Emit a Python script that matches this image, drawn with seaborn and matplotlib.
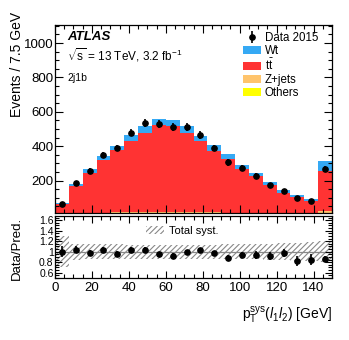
import numpy as np
import pandas as pd
import matplotlib
matplotlib.use("Agg")
import matplotlib.pyplot as plt
from matplotlib.patches import Patch
from matplotlib.ticker import MultipleLocator
import seaborn as sns

# ---- data ----
bin_edges = [0, 7.5, 15, 22.5, 30, 37.5, 45, 52.5, 60, 67.5, 75, 82.5, 90,
             97.5, 105, 112.5, 120, 127.5, 135, 142.5, 150]
others = [2, 3, 4, 4, 5, 5, 5, 5, 5, 5, 5, 4, 4, 4, 3, 3, 3, 2, 2, 7]
zjets = [2, 5, 8, 10, 11, 12, 12, 13, 13, 12, 12, 11, 10, 9, 8, 7, 6, 5, 4, 14]
ttbar = [58, 159, 233, 304, 360, 415, 463, 507, 497, 463, 411, 355, 312, 255, 214, 165, 120, 98, 76, 233]
wt = [8, 16, 23, 23, 27, 31, 35, 34, 35, 39, 33, 37, 29, 25, 20, 17, 15, 12, 12, 58]
data = [67, 184, 258, 349, 390, 480, 534, 527, 511, 511, 467, 390, 306, 272, 229, 173, 138, 100, 84, 268]
data_err = [8, 14, 16, 19, 20, 22, 23, 23, 23, 23, 22, 20, 18, 17, 15, 13, 12, 10, 9, 16]
ratio = [1.00, 1.04, 0.97, 1.03, 0.96, 1.04, 1.04, 0.95, 0.92, 0.99, 1.03, 0.97, 0.88, 0.94, 0.94, 0.92, 0.98, 0.82, 0.85, 0.86]
ratio_err = [0.10, 0.07, 0.06, 0.06, 0.05, 0.05, 0.05, 0.05, 0.05, 0.05, 0.05, 0.05, 0.06, 0.06, 0.07, 0.07, 0.08, 0.09, 0.10, 0.06]
syst = [0.30, 0.15, 0.14, 0.14, 0.14, 0.13, 0.13, 0.13, 0.13, 0.13, 0.13, 0.13, 0.14, 0.14, 0.14, 0.15, 0.16, 0.17, 0.18, 0.20]
processes = ["Wt", "tt", "Z+jets", "Others"]
labels = ["Wt", r"$\mathrm{t}\bar{\mathrm{t}}$", "Z+jets", "Others"]
colors = ["#35a9f4", "#ff3333", "#ffc46c", "#ffff00"]

sns.set_style("ticks")
plt.rcParams["font.family"] = ["Liberation Sans", "DejaVu Sans"]
plt.rcParams["mathtext.fontset"] = "custom"
plt.rcParams["mathtext.rm"] = "Liberation Sans"
plt.rcParams["mathtext.it"] = "Liberation Sans:italic"
plt.rcParams["mathtext.bf"] = "Liberation Sans:bold"
plt.rcParams["hatch.linewidth"] = 0.8
for k in ["text.color", "axes.labelcolor", "xtick.color", "ytick.color", "axes.edgecolor"]:
    plt.rcParams[k] = "black"

edges = np.array(bin_edges)
centers = 0.5 * (edges[:-1] + edges[1:])

rows = []
for name, vals in zip(processes, [wt, ttbar, zjets, others]):
    for c, v in zip(centers, vals):
        rows.append({"x": float(c), "w": float(v), "proc": name})
df = pd.DataFrame(rows)

W, H = 349, 340
fig = plt.figure(figsize=(W / 100, H / 100), dpi=100)
ax = fig.add_axes([55 / W, 1 - 213 / H, 277 / W, 188 / H])
axr = fig.add_axes([55 / W, 1 - 278 / H, 277 / W, 62 / H], sharex=ax)

sns.histplot(data=df, x="x", weights="w", hue="proc", hue_order=processes,
             palette=dict(zip(processes, colors)), bins=list(bin_edges), multiple="stack",
             element="step", fill=True, alpha=1, linewidth=0, legend=False, ax=ax)

eb = ax.errorbar(centers, data, yerr=data_err, fmt="o", color="black",
                 markersize=3.8, elinewidth=1.2, capsize=0, label="Data 2015")

ax.set_xlim(0, 150)
ax.set_ylim(12, 1105)
ax.set_xlabel("")
ax.set_ylabel("")
ax.yaxis.set_major_locator(MultipleLocator(200))
ax.yaxis.set_minor_locator(MultipleLocator(50))
ax.xaxis.set_major_locator(MultipleLocator(20))
ax.xaxis.set_minor_locator(MultipleLocator(5))

for a in (ax, axr):
    a.set_axisbelow(False)
    a.tick_params(which="both", direction="in", top=True, right=True, width=0.8,
                  color="black")
    a.tick_params(which="major", length=6)
    a.tick_params(which="minor", length=3)
    for s in a.spines.values():
        s.set_linewidth(0.9)
        s.set_color("black")
        s.set_zorder(5)
ax.tick_params(axis="y", labelsize=9.5, pad=1)
ax.tick_params(axis="x", labelbottom=False)

handles = [eb] + [Patch(facecolor=c, edgecolor="none", label=l) for c, l in zip(colors, labels)]
ax.legend(handles=handles, labels=["Data 2015"] + labels, loc="upper right",
          bbox_to_anchor=(0.975, 1.0), frameon=False, fontsize=8.3,
          handlelength=1.55, handleheight=0.7, handletextpad=0.35,
          labelspacing=0.08, borderaxespad=0.2)

ax.text(0.045, 0.935, "ATLAS", transform=ax.transAxes, fontsize=9.5,
        fontweight="bold", fontstyle="italic", va="center")
ax.text(0.045, 0.84, r"$\sqrt{\mathrm{s}}$ = 13 TeV, 3.2 fb$^{-1}$",
        transform=ax.transAxes, fontsize=8.5, va="center")
ax.text(0.045, 0.72, "2j1b", transform=ax.transAxes, fontsize=7.5, va="center")

# ratio panel
lo = np.array([1 - s for s in syst])
hi = np.array([1 + s for s in syst])
axr.fill_between(edges, np.append(lo, lo[-1]), np.append(hi, hi[-1]), step="post",
                 facecolor="none", edgecolor="#888888", hatch="//////", linewidth=0)
axr.axhline(1, color="#888888", lw=0.9)
axr.errorbar(centers, ratio, yerr=ratio_err, fmt="o", color="black",
             markersize=3.8, elinewidth=1.2, capsize=0)
axr.set_ylim(0.5, 1.68)
axr.yaxis.set_major_locator(MultipleLocator(0.2))
axr.yaxis.set_minor_locator(MultipleLocator(0.05))
axr.set_yticks([0.6, 0.8, 1.0, 1.2, 1.4, 1.6])
axr.set_yticklabels(["0.6", "0.8", "1", "1.2", "1.4", "1.6"])
axr.tick_params(axis="y", labelsize=7.5, pad=1)
axr.tick_params(axis="x", labelsize=9.5, pad=3)
axr.tick_params(which="major", length=5)
axr.legend(handles=[Patch(facecolor="none", edgecolor="#888888", hatch="//////", linewidth=0)],
           labels=["Total syst."], loc="upper left", bbox_to_anchor=(0.31, 0.93),
           frameon=False, fontsize=8, handlelength=1.6, handleheight=0.6,
           handletextpad=0.4, borderaxespad=0.1)

fig.text(17 / W, 1 - 12 / H, "Events / 7.5 GeV", rotation=90, ha="center",
         va="top", fontsize=10)
fig.text(17 / W, 1 - 248 / H, "Data/Pred.", rotation=90, ha="center",
         va="center", fontsize=9.5)
fig.text(332 / W, 1 - 315 / H, r"$\mathrm{p}_{\mathrm{T}}^{\mathrm{sys}}(l_{1}l_{2})$ [GeV]",
         ha="right", va="center", fontsize=10)

fig.savefig("out.png", dpi=100)
